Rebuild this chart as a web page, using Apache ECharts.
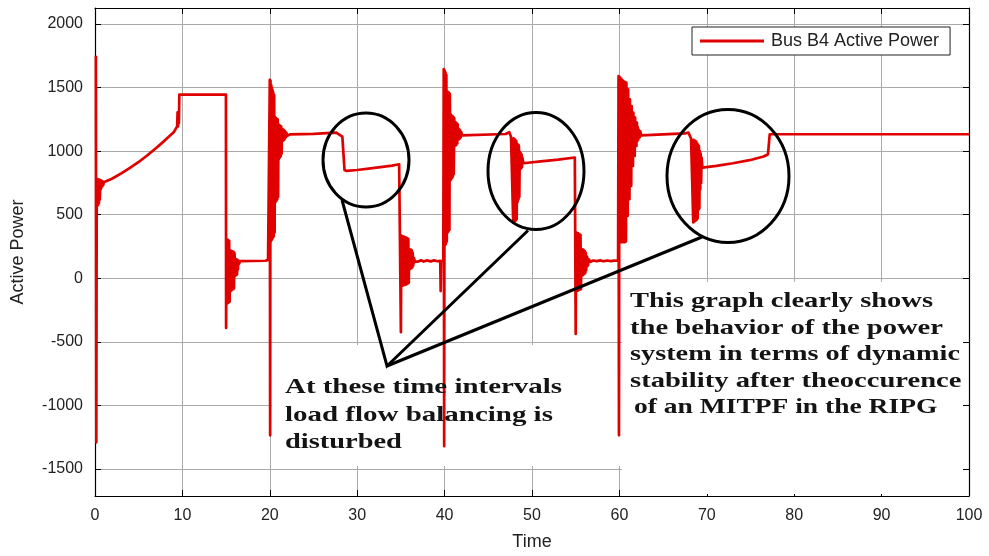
<!DOCTYPE html>
<html>
<head>
<meta charset="utf-8">
<script src="https://cdn.jsdelivr.net/npm/echarts@6/dist/echarts.min.js"></script>
<style>
html,body{margin:0;padding:0;background:#fff;}
#chart{width:989px;height:556px;}
</style>
</head>
<body>
<div id="chart"></div>
<script>
// ---------- data ----------
const seriesName = 'Bus B4 Active Power';
const xTicks = [0, 10, 20, 30, 40, 50, 60, 70, 80, 90, 100];
const yTicks = [-1500, -1000, -500, 0, 500, 1000, 1500, 2000];
const yRange = [-1712, 2126];

const time = [
  0.1, 0.15, 0.2, 0.25, 0.3, 0.35, 0.4, 0.45, 0.5, 0.55, 0.6, 0.65, 0.7, 0.75, 0.8, 0.85, 0.9, 0.95, 1.0, 1.1,
  2, 3, 4, 5, 6, 7, 8, 9, 9.4, 9.45, 9.5, 9.55, 9.6, 9.65, 14.98,
  15.0, 15.05, 15.1, 15.15, 15.2, 15.25, 15.3, 15.35, 15.4, 15.45, 15.5, 15.55, 15.6, 15.65, 15.7, 15.75, 15.8, 15.85, 15.9, 15.95,
  16.0, 16.05, 16.1, 16.15, 16.2, 16.25, 16.3, 16.35, 16.4, 16.5, 16.6, 16.8, 19.5, 19.8, 19.97,
  20.0, 20.04, 20.08, 20.12, 20.16, 20.2, 20.24, 20.28, 20.32, 20.36, 20.4, 20.45, 20.5, 20.55, 20.6, 20.65, 20.7, 20.75, 20.8, 20.85,
  20.9, 20.95, 21.0, 21.05, 21.1, 21.15, 21.2, 21.25, 21.3, 21.35, 21.4, 21.45, 21.5, 21.55, 21.6, 21.65, 21.7, 21.75, 21.8, 21.85,
  21.9, 22.0, 22.3, 25.0, 27.6, 28.3, 28.45, 28.55, 28.8, 30.0, 32.0, 34.0, 34.8, 34.92,
  35.0, 35.05, 35.1, 35.15, 35.2, 35.25, 35.3, 35.35, 35.4, 35.45, 35.5, 35.55, 35.6, 35.65, 35.7, 35.75, 35.8, 35.85, 35.9, 35.95,
  36.0, 36.05, 36.1, 36.15, 36.2, 36.25, 36.3, 36.35, 36.4, 36.5, 36.6, 36.8, 37.0, 37.3, 37.6, 38.0, 38.4, 38.8, 39.2, 39.5,
  39.55, 39.6, 39.85,
  39.9, 39.95, 40.0, 40.05, 40.1, 40.15, 40.2, 40.25, 40.3, 40.35, 40.4, 40.45, 40.5, 40.55, 40.6, 40.65, 40.7, 40.75, 40.8, 40.85,
  40.9, 40.95, 41.0, 41.05, 41.1, 41.15, 41.2, 41.25, 41.3, 41.35, 41.4, 41.45, 41.5, 41.55, 41.6, 41.65, 41.7, 41.75, 41.8, 41.85,
  41.9, 42.0, 42.1, 47.0, 47.4,
  47.5, 47.6, 47.8, 47.85, 47.9, 47.95, 48.0, 48.05, 48.1, 48.15, 48.2, 48.25, 48.3, 48.35, 48.4, 48.45, 48.5, 48.55, 48.6, 48.65,
  48.7, 48.75, 48.8, 48.85, 48.9, 49.0, 49.2, 51.0, 53.0, 54.9,
  55.0, 55.05, 55.1, 55.15, 55.2, 55.25, 55.3, 55.35, 55.4, 55.45, 55.5, 55.55, 55.6, 55.65, 55.7, 55.75, 55.8, 55.85, 55.9, 55.95,
  56.0, 56.05, 56.1, 56.15, 56.2, 56.3, 56.4, 56.5, 56.7, 57.0, 57.4, 57.8, 58.2, 58.6, 59.0, 59.4, 59.85,
  59.9, 59.95, 60.0, 60.05, 60.1, 60.15, 60.2, 60.25, 60.3, 60.35, 60.4, 60.45, 60.5, 60.55, 60.6, 60.65, 60.7, 60.75, 60.8, 60.85,
  60.9, 60.95, 61.0, 61.05, 61.1, 61.15, 61.2, 61.25, 61.3, 61.35, 61.4, 61.45, 61.5, 61.55, 61.6, 61.65, 61.7, 61.75, 61.8, 61.85,
  61.9, 61.95, 62.0, 62.05, 62.1, 62.15, 62.2, 62.25, 62.3, 62.35, 62.4, 62.5, 62.7, 67.5, 67.9,
  68.05, 68.2, 68.4, 68.45, 68.5, 68.55, 68.6, 68.65, 68.7, 68.75, 68.8, 68.85, 68.9, 68.95, 69.0, 69.05, 69.1, 69.15, 69.2, 69.25,
  69.3, 69.35, 69.4, 69.5, 69.7, 71.1, 73.0, 74.9, 76.5, 77.0, 77.2, 100
];

const power = [
  1750, -1290, 780, 570, 780, 575, 778, 590, 776, 620, 772, 700, 770, 715, 765, 725, 760, 735, 755, 750,
  785, 825, 868, 915, 968, 1025, 1085, 1148, 1195, 1305, 1195, 1300, 1220, 1445, 1445,
  -390, 308, -200, 305, -195, 300, -190, 295, -185, 220, -100, 218, -95, 215, -90, 212, -85, 208, -80, 200,
  155, 20, 152, 25, 150, 30, 145, 70, 140, 115, 136, 138, 138, 145, 145,
  1560, -1235, 1555, 290, 1520, 300, 1500, 310, 1480, 320, 1460, 330, 1440, 360, 1270, 600, 1260, 610, 1255, 620,
  1250, 640, 1210, 940, 1205, 950, 1200, 960, 1195, 980, 1175, 1080, 1172, 1085, 1168, 1090, 1160, 1100, 1152, 1110,
  1145, 1120, 1132, 1136, 1146, 1115, 1100, 850, 845, 852, 868, 886, 897, 890,
  -424, 335, -60, 333, -58, 330, -55, 328, -52, 325, -50, 322, -48, 318, -45, 315, -40, 310, -35, 230,
  73, 228, 75, 225, 80, 220, 85, 200, 100, 160, 130, 140, 133, 142, 132, 141, 133, 141, 134, 138,
  -100, 135, 138,
  1645, -1320, 1635, 260, 1620, 270, 1600, 290, 1470, 360, 1465, 370, 1460, 380, 1450, 770, 1290, 780, 1280, 790,
  1275, 800, 1270, 820, 1260, 1040, 1230, 1045, 1225, 1050, 1218, 1060, 1210, 1094, 1175, 1095, 1170, 1100, 1162, 1110,
  1150, 1125, 1133, 1135, 1150,
  1145, 1112, 1105, 440, 1100, 445, 1095, 450, 1090, 455, 1080, 465, 1060, 600, 1050, 620, 1045, 640, 995, 860,
  985, 865, 975, 875, 950, 905, 910, 920, 933, 950,
  -437, 361, -100, 358, -98, 355, -95, 350, -90, 346, -88, 342, -85, 232, 20, 230, 25, 226, 30, 220,
  35, 215, 45, 200, 65, 170, 100, 150, 130, 140, 135, 141, 134, 140, 135, 139, 138,
  1590, -1235, 1585, 283, 1578, 285, 1570, 285, 1560, 285, 1555, 285, 1550, 285, 1545, 285, 1540, 290, 1539, 491,
  1486, 491, 1486, 622, 1408, 622, 1408, 727, 1355, 727, 1355, 884, 1303, 884, 1303, 962, 1264, 962, 1264, 1041,
  1225, 1041, 1225, 1080, 1190, 1090, 1170, 1107, 1159, 1110, 1155, 1125, 1133, 1140, 1146,
  1135, 1100, 1095, 440, 1090, 445, 1085, 450, 1080, 455, 1075, 460, 1060, 470, 1050, 540, 1040, 550, 1000, 700,
  980, 750, 950, 870, 871, 884, 905, 929, 958, 976, 1133, 1133
];

// ---------- chart ----------
const chart = echarts.init(document.getElementById('chart'), null, {renderer: 'canvas'});
const sans = '"Liberation Sans", Arial, sans-serif';
const serif = '"Liberation Serif", "Times New Roman", serif';
const red = '#e00000';
const gridColor = '#aaaaaa';

function yLabel(v) { return yTicks.indexOf(v) >= 0 ? String(v) : ''; }

const serifText = (txt, x, y, sx) => ({
  type: 'text', x: x, y: y, scaleX: sx, z: 20,
  style: {text: txt, font: 'bold 21px ' + serif, fill: '#141414', align: 'left', verticalAlign: 'middle'}
});

chart.setOption({
  animation: false,
  backgroundColor: '#fff',
  grid: {left: 95, right: 20, top: 8, bottom: 58, containLabel: false},
  legend: {
    show: true,
    left: 692, top: 27,
    padding: [5, 11, 5, 8],
    borderColor: '#222', borderWidth: 1, backgroundColor: '#fff',
    itemWidth: 64, itemHeight: 3, icon: 'rect', itemGap: 10,
    textStyle: {fontFamily: sans, fontSize: 18, color: '#222', padding: [0, 0, 0, 2]},
    data: [seriesName]
  },
  xAxis: [{
    type: 'value', position: 'bottom',
    min: xTicks[0], max: xTicks[xTicks.length - 1], interval: 10,
    name: 'Time', nameLocation: 'middle', nameGap: 37,
    nameTextStyle: {fontFamily: sans, fontSize: 18, color: '#222'},
    axisLine: {show: true, onZero: false, lineStyle: {color: '#000', width: 1.2}},
    axisTick: {show: true, inside: true, length: 6, lineStyle: {color: '#000'}},
    axisLabel: {fontFamily: sans, fontSize: 16, color: '#222', margin: 12},
    splitLine: {show: true, lineStyle: {color: gridColor, width: 1}}
  }, {
    type: 'value', position: 'top',
    min: xTicks[0], max: xTicks[xTicks.length - 1], interval: 10,
    axisLine: {show: true, onZero: false, lineStyle: {color: '#000', width: 1.2}},
    axisTick: {show: true, inside: true, length: 6, lineStyle: {color: '#000'}},
    axisLabel: {show: false},
    splitLine: {show: false}
  }],
  yAxis: [{
    type: 'value', position: 'left',
    min: yRange[0], max: yRange[1], minInterval: 500, maxInterval: 500,
    name: 'Active Power', nameLocation: 'middle', nameGap: 68, nameRotate: 90,
    nameTextStyle: {fontFamily: sans, fontSize: 18, color: '#222'},
    axisLine: {show: true, onZero: false, lineStyle: {color: '#000', width: 1.2}},
    axisTick: {show: true, inside: true, length: 6, lineStyle: {color: '#000'}},
    axisLabel: {fontFamily: sans, fontSize: 16, color: '#222', margin: 12, formatter: yLabel,
                showMinLabel: true, showMaxLabel: true},
    splitLine: {show: true, lineStyle: {color: gridColor, width: 1}}
  }, {
    type: 'value', position: 'right',
    min: yRange[0], max: yRange[1], minInterval: 500, maxInterval: 500,
    axisLine: {show: true, onZero: false, lineStyle: {color: '#000', width: 1.2}},
    axisTick: {show: true, inside: true, length: 6, lineStyle: {color: '#000'}},
    axisLabel: {show: false},
    splitLine: {show: false}
  }],
  series: [{
    name: seriesName,
    type: 'line',
    xAxisIndex: 0, yAxisIndex: 0,
    data: time.map((t, i) => [t, power[i]]),
    showSymbol: false, symbol: 'none',
    lineStyle: {color: red, width: 2.7, join: 'round'},
    itemStyle: {color: red},
    z: 5
  }],
  graphic: {elements: [
    // white boxes behind annotation texts
    {type: 'rect', z: 1, shape: {x: 272, y: 345, width: 350, height: 121}, style: {fill: '#fff'}},
    {type: 'rect', z: 1, shape: {x: 622, y: 282, width: 341, height: 212}, style: {fill: '#fff'}},
    // ellipses
    {type: 'ellipse', z: 20, shape: {cx: 366, cy: 160, rx: 43, ry: 47}, style: {fill: 'none', stroke: '#000', lineWidth: 3}},
    {type: 'ellipse', z: 20, shape: {cx: 536, cy: 171, rx: 48, ry: 58.5}, style: {fill: 'none', stroke: '#000', lineWidth: 3}},
    {type: 'ellipse', z: 20, shape: {cx: 728, cy: 176, rx: 61, ry: 66.5}, style: {fill: 'none', stroke: '#000', lineWidth: 3}},
    // pointer lines
    {type: 'polyline', z: 20, shape: {points: [[342, 200], [387, 366], [528, 230.5]]}, style: {fill: 'none', stroke: '#000', lineWidth: 3, lineJoin: 'miter'}},
    {type: 'line', z: 20, shape: {x1: 387, y1: 366, x2: 702, y2: 237}, style: {stroke: '#000', lineWidth: 3}},
    // annotation texts
    serifText('At these time intervals', 285, 388, 1.377),
    serifText('load flow balancing is', 285, 415.5, 1.379),
    serifText('disturbed', 285, 443, 1.354),
    serifText('This graph clearly shows', 630, 301.5, 1.356),
    serifText('the behavior of the power', 630, 329, 1.362),
    serifText('system in terms of dynamic', 630, 355, 1.347),
    serifText('stability after theoccurence', 630, 381.5, 1.362),
    serifText('of an MITPF in the RIPG', 634, 408, 1.31)
  ]}
});
</script>
</body>
</html>
